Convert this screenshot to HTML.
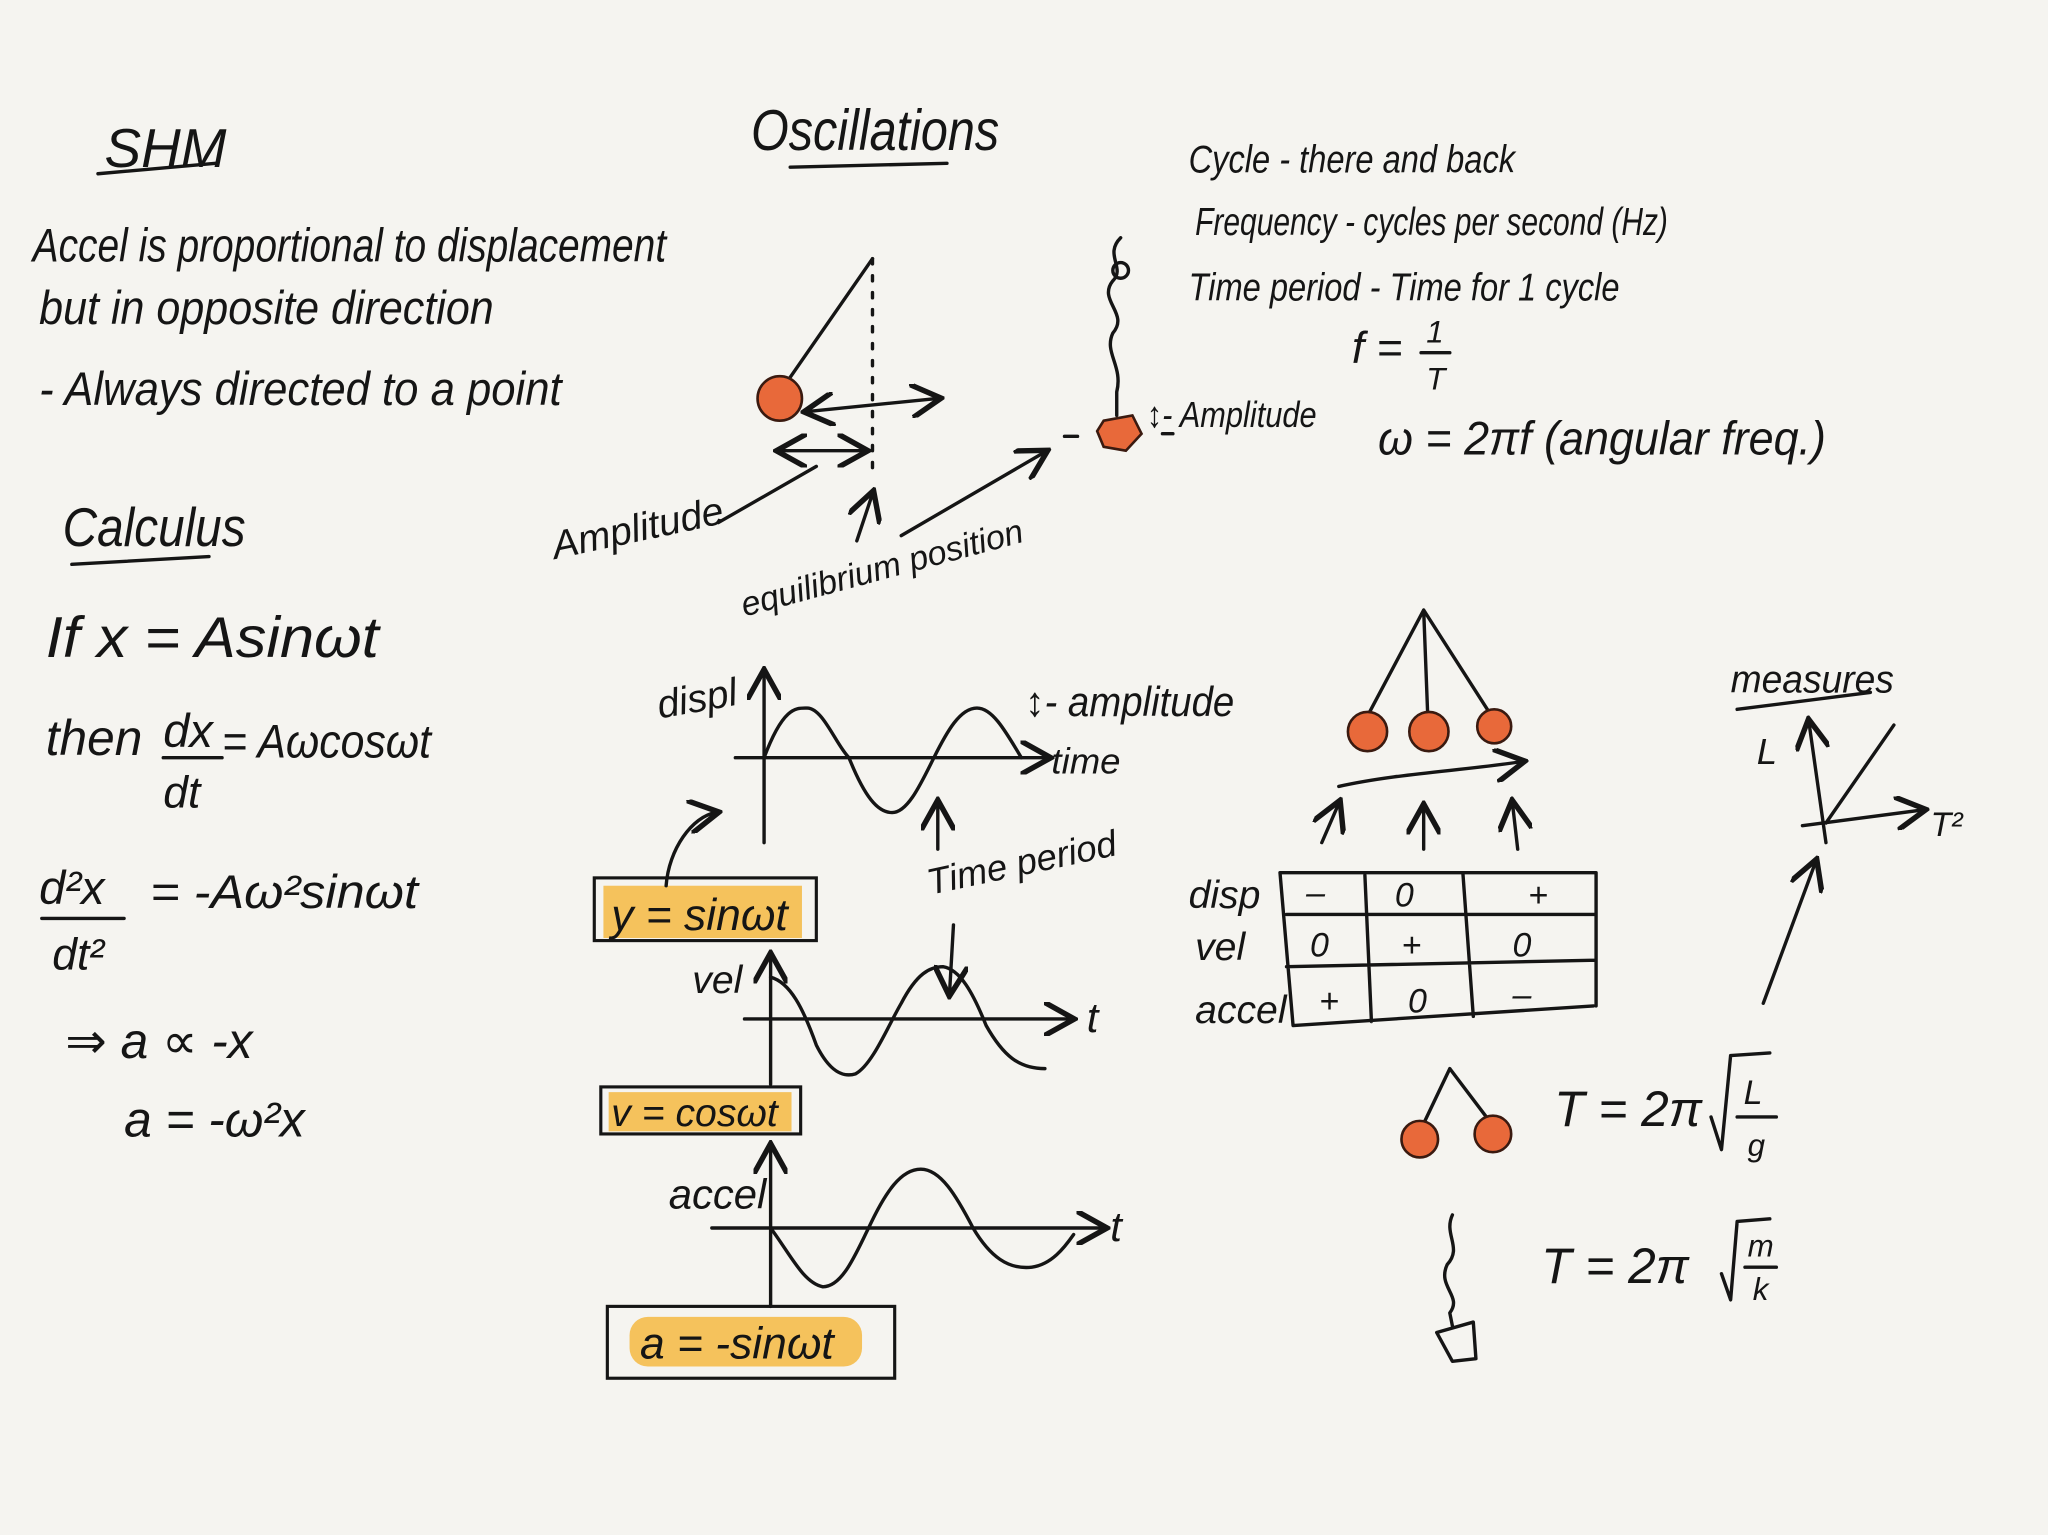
<!DOCTYPE html>
<html><head><meta charset="utf-8"><style>
html,body{margin:0;padding:0;background:#f5f4f0;}
svg{display:block}
text{font-family:"Liberation Sans","DejaVu Sans",sans-serif;font-style:italic;fill:#151515;}
.l{fill:none;stroke:#151515;stroke-width:2.6;stroke-linecap:round;stroke-linejoin:round}
.o{fill:#e8693a;stroke:#3a1a10;stroke-width:2}
.h{fill:#f4b942;opacity:.85}
</style></head><body>
<svg width="2048" height="1535" viewBox="0 0 1568 1175" preserveAspectRatio="none" xmlns="http://www.w3.org/2000/svg">
<rect width="1568" height="1175" fill="#f5f4f0"/>
<defs><marker id="a" markerWidth="10" markerHeight="10" refX="8" refY="5" orient="auto"><path d="M0,0 L9,5 L0,10" fill="none" stroke="#151515" stroke-width="1.6"/></marker>
<marker id="b" markerWidth="10" markerHeight="10" refX="2" refY="5" orient="auto"><path d="M10,0 L1,5 L10,10" fill="none" stroke="#151515" stroke-width="1.6"/></marker></defs>

<!-- left column -->
<text x="80" y="128" font-size="42">SHM</text>
<path class="l" d="M75 133 L165 125"/>
<text x="25" y="200" font-size="36" textLength="485" lengthAdjust="spacingAndGlyphs">Accel is proportional to displacement</text>
<text x="30" y="248" font-size="36" textLength="348" lengthAdjust="spacingAndGlyphs">but in opposite direction</text>
<text x="30" y="310" font-size="36" textLength="400" lengthAdjust="spacingAndGlyphs">- Always directed to a point</text>
<text x="48" y="418" font-size="42" textLength="140" lengthAdjust="spacingAndGlyphs">Calculus</text>
<path class="l" d="M55 432 L160 426"/>
<text x="35" y="503" font-size="44" textLength="255" lengthAdjust="spacingAndGlyphs">If x = Asinωt</text>
<text x="35" y="578" font-size="38">then</text>
<text x="125" y="572" font-size="36">dx</text><path class="l" d="M125 580 L170 580"/><text x="125" y="618" font-size="34">dt</text>
<text x="170" y="580" font-size="36" textLength="160" lengthAdjust="spacingAndGlyphs">= Aωcosωt</text>
<text x="30" y="692" font-size="36">d²x</text><path class="l" d="M32 703 L95 703"/><text x="40" y="742" font-size="34">dt²</text>
<text x="115" y="695" font-size="36" textLength="205" lengthAdjust="spacingAndGlyphs">= -Aω²sinωt</text>
<text x="50" y="810" font-size="38">⇒ a ∝ -x</text>
<text x="95" y="870" font-size="38">a = -ω²x</text>

<!-- Oscillations -->
<text x="575" y="115" font-size="44" textLength="190" lengthAdjust="spacingAndGlyphs">Oscillations</text>
<path class="l" d="M605 128 L725 125"/>
<path class="l" d="M600 296 L668 198"/>
<path class="l" d="M668 198 L668 360" stroke-dasharray="4 9"/>
<circle class="o" cx="597" cy="305" r="17"/>
<path class="l" d="M618 315 L718 305" marker-start="url(#b)" marker-end="url(#a)"/>
<path class="l" d="M597 345 L662 345" marker-start="url(#b)" marker-end="url(#a)"/>
<text x="425" y="428" font-size="30" transform="rotate(-12 425 428)">Amplitude</text>
<path class="l" d="M550 400 L625 357"/>
<text x="570" y="472" font-size="26" transform="rotate(-15 570 472)">equilibrium position</text>
<path class="l" d="M656 414 L668 378" marker-end="url(#a)"/>
<path class="l" d="M690 410 L800 346" marker-end="url(#a)"/>
<!-- spring -->
<path class="l" d="M858 182 C845 195 862 205 852 215 C840 230 865 240 852 255 C845 270 860 280 855 300 L855 318"/>
<circle class="l" cx="858" cy="207" r="6"/>
<path class="o" d="M845 322 L867 318 L874 332 L862 345 L845 342 L840 330 Z"/>
<path class="l" d="M815 334 L825 334 M890 332 L898 332"/>
<text x="878" y="327" font-size="28" textLength="130" lengthAdjust="spacingAndGlyphs">↕- Amplitude</text>

<!-- right text -->
<text x="910" y="132" font-size="30" textLength="250" lengthAdjust="spacingAndGlyphs">Cycle - there and back</text>
<text x="915" y="180" font-size="30" textLength="362" lengthAdjust="spacingAndGlyphs">Frequency - cycles per second (Hz)</text>
<text x="910" y="230" font-size="30" textLength="330" lengthAdjust="spacingAndGlyphs">Time period - Time for 1 cycle</text>
<text x="1035" y="278" font-size="34">f =</text>
<text x="1092" y="262" font-size="24">1</text><path class="l" d="M1088 270 L1110 270"/><text x="1092" y="298" font-size="24">T</text>
<text x="1055" y="348" font-size="36" textLength="343" lengthAdjust="spacingAndGlyphs">ω = 2πf (angular freq.)</text>

<!-- disp graph -->
<text x="505" y="550" font-size="30" transform="rotate(-10 505 550)">displ</text>
<path class="l" d="M585 645 L585 515" marker-end="url(#a)"/>
<path class="l" d="M563 580 L802 580" marker-end="url(#a)"/>
<path class="l" d="M585 580 C600 540 610 542 618 542 C630 542 640 570 650 580 C662 610 672 622 683 622 C695 622 705 600 715 580 C725 560 735 542 748 542 C760 542 770 560 782 580"/>
<text x="785" y="548" font-size="32" textLength="160" lengthAdjust="spacingAndGlyphs">↕- amplitude</text>
<text x="805" y="592" font-size="28">time</text>
<path class="l" d="M718 650 L718 615" marker-end="url(#a)"/>
<text x="712" y="685" font-size="28" transform="rotate(-12 712 685)">Time period</text>
<path class="l" d="M730 708 L727 760" marker-end="url(#a)"/>
<rect class="h" x="462" y="678" width="152" height="40"/>
<rect x="455" y="672" width="170" height="48" fill="none" stroke="#151515" stroke-width="2.4"/>
<text x="468" y="712" font-size="34">y = sinωt</text>
<path class="l" d="M510 678 C512 650 530 625 548 622" marker-end="url(#a)"/>

<!-- vel graph -->
<text x="530" y="760" font-size="30">vel</text>
<path class="l" d="M590 830 L590 732" marker-end="url(#a)"/>
<path class="l" d="M570 780 L820 780" marker-end="url(#a)"/>
<path class="l" d="M590 748 C605 752 615 772 625 800 C635 820 645 825 655 822 C668 815 680 785 690 768 C702 745 712 740 722 740 C735 742 745 760 755 785 C768 808 780 818 800 818"/>
<text x="832" y="790" font-size="32">t</text>
<rect class="h" x="466" y="836" width="140" height="30"/>
<rect x="460" y="832" width="153" height="36" fill="none" stroke="#151515" stroke-width="2.4"/>
<text x="468" y="862" font-size="30">v = cosωt</text>

<!-- accel graph -->
<text x="512" y="925" font-size="32">accel</text>
<path class="l" d="M590 1000 L590 878" marker-end="url(#a)"/>
<path class="l" d="M545 940 L845 940" marker-end="url(#a)"/>
<path class="l" d="M590 940 C605 960 615 982 630 985 C645 985 655 960 665 940 C678 912 690 895 705 895 C720 895 732 915 745 940 C758 962 772 972 790 970 C805 968 815 955 822 945"/>
<text x="850" y="950" font-size="32">t</text>
<rect class="h" x="482" y="1008" width="178" height="38" rx="14"/>
<rect x="465" y="1000" width="220" height="55" fill="none" stroke="#151515" stroke-width="2.4"/>
<text x="490" y="1040" font-size="34">a = -sinωt</text>

<!-- triple pendulum -->
<path class="l" d="M1090 467 L1047 548 M1090 467 L1093 545 M1090 467 L1140 545"/>
<circle class="o" cx="1047" cy="560" r="15"/>
<circle class="o" cx="1094" cy="560" r="15"/>
<circle class="o" cx="1144" cy="556" r="13"/>
<path class="l" d="M1025 602 C1070 592 1120 590 1165 583" marker-end="url(#a)"/>
<path class="l" d="M1012 645 L1025 615" marker-end="url(#a)"/>
<path class="l" d="M1090 650 L1090 618" marker-end="url(#a)"/>
<path class="l" d="M1162 650 L1158 615" marker-end="url(#a)"/>

<!-- table -->
<path class="l" d="M980 668 L1222 668 L1222 770 M980 668 L990 785 L1220 770 M985 700 L1222 700 M985 740 L1222 735 M1045 670 L1050 782 M1120 668 L1128 778"/>
<text x="910" y="695" font-size="30">disp</text>
<text x="915" y="735" font-size="30">vel</text>
<text x="915" y="783" font-size="30">accel</text>
<text x="1000" y="692" font-size="26">–</text><text x="1068" y="694" font-size="26">0</text><text x="1170" y="694" font-size="26">+</text>
<text x="1003" y="732" font-size="26">0</text><text x="1073" y="732" font-size="26">+</text><text x="1158" y="732" font-size="26">0</text>
<text x="1010" y="775" font-size="26">+</text><text x="1078" y="775" font-size="26">0</text><text x="1158" y="770" font-size="26">–</text>

<!-- small pendulum -->
<path class="l" d="M1110 818 L1090 860 M1110 818 L1138 855"/>
<circle class="o" cx="1087" cy="872" r="14"/>
<circle class="o" cx="1143" cy="868" r="14"/>
<text x="1190" y="862" font-size="38">T = 2π</text>
<path class="l" d="M1310 855 L1318 880 L1325 808 L1355 806"/>
<text x="1335" y="845" font-size="26">L</text><path class="l" d="M1330 855 L1360 855"/><text x="1338" y="885" font-size="24">g</text>

<!-- spring 2 -->
<path class="l" d="M1112 930 C1105 945 1120 955 1108 968 C1100 985 1120 992 1110 1005 L1112 1015 M1100 1020 L1128 1012 L1130 1040 L1112 1042 Z"/>
<text x="1180" y="982" font-size="38">T =   2π</text>
<path class="l" d="M1318 975 L1325 995 L1330 935 L1355 933"/>
<text x="1338" y="962" font-size="24">m</text><path class="l" d="M1336 970 L1360 970"/><text x="1342" y="995" font-size="24">k</text>

<!-- measures -->
<text x="1325" y="530" font-size="30" textLength="125" lengthAdjust="spacingAndGlyphs">measures</text>
<path class="l" d="M1330 543 L1432 530"/>
<text x="1345" y="585" font-size="28">L</text>
<path class="l" d="M1398 645 L1385 553" marker-end="url(#a)"/>
<path class="l" d="M1380 632 L1472 620" marker-end="url(#a)"/>
<path class="l" d="M1398 630 L1450 555"/>
<text x="1478" y="640" font-size="26">T²</text>
<path class="l" d="M1350 768 L1390 660" marker-end="url(#a)"/>
</svg>
</body></html>
